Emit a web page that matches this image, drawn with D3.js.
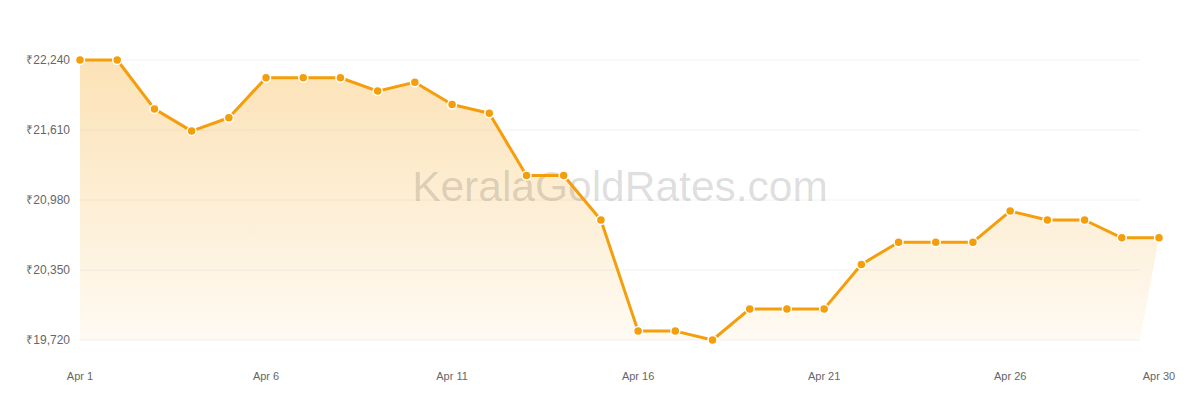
<!DOCTYPE html>
<html><head><meta charset="utf-8">
<script src="https://cdn.jsdelivr.net/npm/d3@7"></script>
<style>body{margin:0;background:#fff;font-family:"Liberation Sans",Arial,sans-serif}</style>
</head><body><svg id="c" width="1200" height="400"></svg>
<script>
const days = d3.range(1, 31);
const prices = [22240,22240,21800,21600,21720,22080,22080,22080,21960,22040,21840,21760,21200,21200,20800,19800,19800,19720,20000,20000,20000,20400,20600,20600,20600,20880,20800,20800,20640,20640];
const yTicks = [19720,20350,20980,21610,22240];
const xTickDays = [1,6,11,16,21,26,30];

(function(){
const svg = d3.select("#c");
const mLeft = 80, mRight = 1159, gridRight = 1140, mTop = 60, mBottom = 340;
const x = d3.scaleLinear().domain([1,30]).range([mLeft,mRight]);
const y = d3.scaleLinear().domain([19720,22240]).range([mBottom,mTop]);
const data = days.map((d,i)=>({d, v:prices[i]}));

const defs = svg.append("defs");
const g = defs.append("linearGradient").attr("id","ag").attr("gradientUnits","userSpaceOnUse")
  .attr("x1",0).attr("y1",mTop).attr("x2",0).attr("y2",mBottom);
g.append("stop").attr("offset","0%").attr("stop-color","#f59e0b").attr("stop-opacity",0.3);
g.append("stop").attr("offset","100%").attr("stop-color","#f59e0b").attr("stop-opacity",0.05);

svg.append("g").selectAll("line").data(yTicks).join("line")
  .attr("x1",mLeft).attr("x2",gridRight).attr("y1",d=>y(d)).attr("y2",d=>y(d))
  .attr("stroke","#f2f2f2").attr("stroke-width",1);

svg.append("g").selectAll("text").data(yTicks).join("text")
  .attr("x",70).attr("y",d=>y(d)).attr("dy","0.35em").attr("text-anchor","end")
  .attr("font-size",12).attr("fill","#666").text(d=>"₹"+d3.format(",")(d));

svg.append("g").selectAll("text").data(xTickDays).join("text")
  .attr("x",d=>x(d)).attr("y",380).attr("text-anchor","middle")
  .attr("font-size",11).attr("fill","#666").text(d=>"Apr "+d);

const last = data.length-1;
const area = d3.area()
  .x0((d,i)=> i===last ? gridRight : x(d.d))
  .x1(d=>x(d.d)).y0(mBottom).y1(d=>y(d.v));
svg.append("path").datum(data).attr("d",area).attr("fill","url(#ag)");

svg.append("text").attr("x",620).attr("y",201).attr("text-anchor","middle")
  .attr("font-size",42.5).attr("fill","#000").attr("fill-opacity",0.14).text("KeralaGoldRates.com");

svg.append("path").datum(data)
  .attr("d",d3.line().x(d=>x(d.d)).y(d=>y(d.v)))
  .attr("fill","none").attr("stroke","#f59e0b").attr("stroke-width",3).attr("stroke-linejoin","round");

svg.append("g").selectAll("circle").data(data).join("circle")
  .attr("cx",d=>x(d.d)).attr("cy",d=>y(d.v)).attr("r",4.5)
  .attr("fill","#f59e0b").attr("stroke","#fff").attr("stroke-width",1.5);
})();
</script></body></html>
